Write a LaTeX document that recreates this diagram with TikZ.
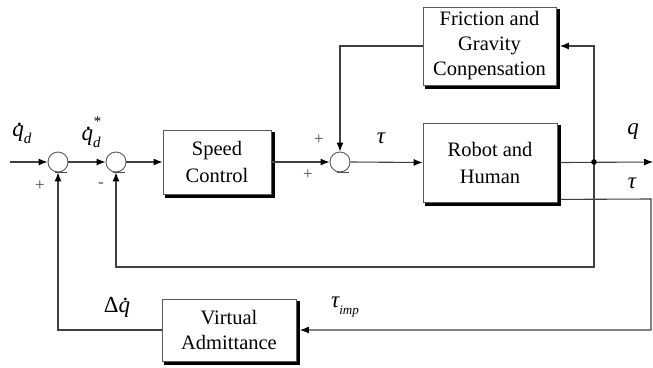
\documentclass[tikz,border=0pt]{standalone}
\usepackage{fontspec}
\setmainfont{Liberation Serif}
\usetikzlibrary{arrows.meta,calc}
\newcommand\mydq{\makebox[0pt][l]{\hspace{0.2em}\raisebox{0.5em}{.}}q}
\newcommand\mysub[1]{\raisebox{-0.28em}{\fontsize{15}{15}\selectfont #1}}
\begin{document}
\begin{tikzpicture}[x=1pt,y=-1pt,
  ln/.style={draw=black!75, line width=1.1pt},
  arr/.style={ln, -{Latex[length=9pt,width=7pt,black]}},
  blk/.style={draw=black!65, line width=0.8pt, fill=white, align=center, inner sep=0pt,
    font=\fontsize{20.5}{25}\selectfont},
  shd/.style={draw=black, line width=3.2pt, line cap=rect},
  sum/.style={circle, draw=black!65, line width=0.9pt, fill=white, minimum size=20pt, inner sep=0pt},
  lbl/.style={inner sep=1pt, font=\fontsize{23}{23}\selectfont\itshape},
  sgn/.style={text=black!70, font=\fontsize{17}{17}\selectfont}
]
\fill[white] (0,0) rectangle (653,367);
\useasboundingbox (0,0) rectangle (653,367);

% blocks
\node[blk, minimum width=108pt, minimum height=64pt] (sc) at (217,162) {Speed\\[2pt]Control};
\node[blk, minimum width=134pt, minimum height=79pt] (rb) at (490,162.5) {Robot and\\[2pt]Human};
\node[blk, minimum width=133pt, minimum height=78pt] (fg) at (489.5,46) {Friction and\\Gravity\\Conpensation};
\node[blk, minimum width=134pt, minimum height=62pt] (va) at (229,330) {Virtual\\Admittance};

% shadows of the blocks: right and bottom bands
\foreach \b in {sc,rb,fg,va}
  \draw[shd] ($(\b.north east)+(2,4)$) -- ($(\b.south east)+(2,2)$) -- ($(\b.south west)+(4,2)$);

% summing junctions
\node[sum] (s1) at (58,162) {};
\node[sum] (s2) at (116,162) {};
\node[sum] (s3) at (340,162) {};
\foreach \s in {s1,s2,s3} \draw[black!70, line width=0.9pt] ($(\s.south)+(-3,0)$) -- ++(12,0);

% coordinates
\coordinate (in) at (10,162);
\coordinate (br) at (594,162);
\coordinate (out) at (653,162);
\coordinate (fb) at (116,267);
\coordinate (t1) at ($(rb.south east)+(3.5,-3)$);
\coordinate (t2) at (651,199);

% connectors
\draw[arr] (in) -- (s1.west);
\draw[arr] (s1.east) -- (s2.west);
\draw[arr] (s2.east) -- (sc.west);
\draw[arr] (sc.east) -- (s3.west);
\draw[arr] (s3.east) -- (rb.west);
\draw[arr] ($(rb.east)+(3.5,0)$) -- (out);
\draw[arr] (br) |- ($(fg.east)+(3.5,0)$);
\draw[arr] (fg.west) -| (s3.north);
\draw[arr] (br) |- (fb) -- (s2.south);
\draw[arr] (t1) -- (t2) |- ($(va.east)+(3.5,0)$);
\draw[arr] (va.west) -| (s1.south);
\fill[black] (br) circle (2.8pt);

% labels
\node[lbl] (lqd) at (22,133) {\mydq\mysub{d}};
\node[lbl] (lqds) at (91,132) {\mydq\rlap{\raisebox{0.62em}{\fontsize{15}{15}\selectfont *}}\mysub{d}};
\node[sgn] (p1) at (40,186) {+};
\node[sgn] (m2) at (101,185) {-};
\node[sgn] (p3) at (319,140) {+};
\node[sgn] (p4) at (308,175) {+};
\node[lbl] (ltau) at (381,138) {τ};
\node[lbl] (lq) at (633,132) {q};
\node[lbl] (ltau2) at (632,183) {τ};
\node[lbl] (ldq) at (117,307) {\upshape Δ\itshape\mydq};
\node[lbl] (ltimp) at (345,307) {τ\mysub{\fontsize{13}{13}\selectfont imp}};
\end{tikzpicture}
\end{document}
